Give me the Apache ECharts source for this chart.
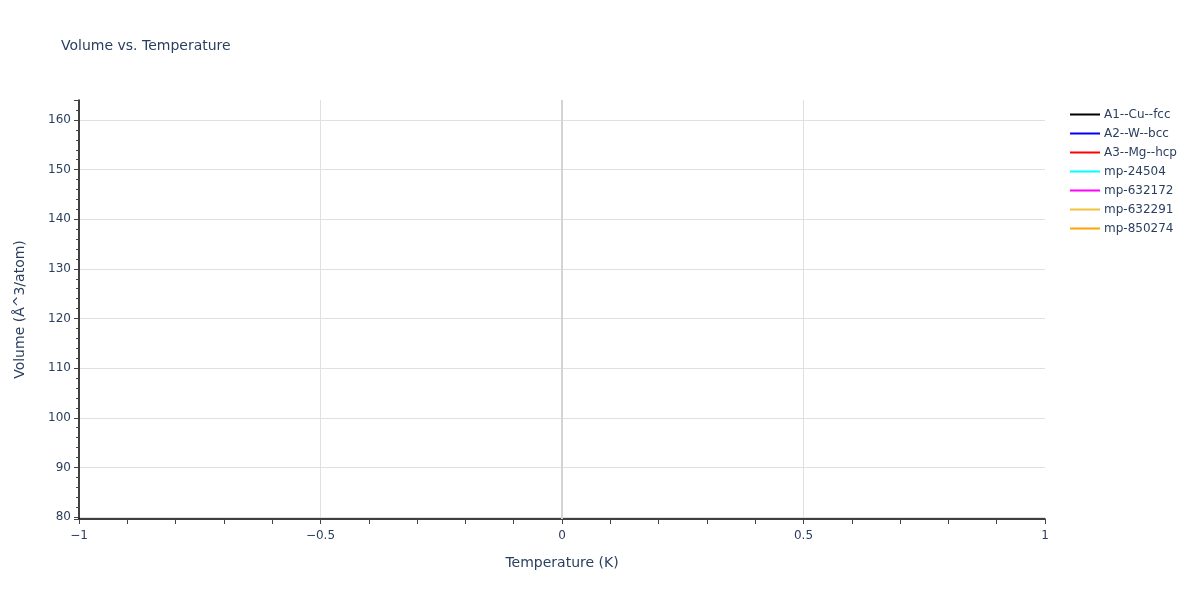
<!DOCTYPE html>
<html>
<head>
<meta charset="utf-8">
<script src="https://cdn.jsdelivr.net/npm/echarts@6/dist/echarts.min.js"></script>
<style>html,body{margin:0;padding:0;background:#fff}#chart{width:1200px;height:600px}</style>
</head>
<body>
<div id="chart"></div>
<script>
// Series names and colours (legend)
const seriesNames = ['A1--Cu--fcc', 'A2--W--bcc', 'A3--Mg--hcp', 'mp-24504', 'mp-632172', 'mp-632291', 'mp-850274'];
const seriesColors = ['#000000', '#0000ff', '#ff0000', '#00ffff', '#ff00ff', '#f0c23c', '#ffa500'];
// Temperature values (K) — each series only has the T = 0 point
const temperatures = [0];
// Volume values (Å^3/atom), one per series at T = 0 (not visible: single-point lines)
const volA1 = [83.8];
const volA2 = [95.0];
const volA3 = [110.0];
const volMp24504 = [125.0];
const volMp632172 = [140.0];
const volMp632291 = [150.0];
const volMp850274 = [159.8];
const volumes = [volA1, volA2, volA3, volMp24504, volMp632172, volMp632291, volMp850274];

const textColor = '#2a3f5f';
const fontFamily = '"DejaVu Sans", Verdana, sans-serif';
const fmt = v => {
  const s = String(Math.round(v * 100) / 100);
  return s.replace('-', '\u2212');
};

const series = seriesNames.map((name, i) => ({
  name: name,
  type: 'line',
  symbol: 'none',
  showSymbol: false,
  color: seriesColors[i],
  lineStyle: { width: 2, color: seriesColors[i] },
  data: temperatures.map((t, j) => [t, volumes[i][j]])
}));
series[0].markLine = {
  silent: true,
  symbol: 'none',
  label: { show: false },
  lineStyle: { color: '#d4d4d4', width: 2, type: 'solid' },
  data: [{ xAxis: 0 }],
  animation: false
};

const chart = echarts.init(document.getElementById('chart'));
chart.setOption({
  animation: false,
  backgroundColor: '#fff',
  textStyle: { fontFamily: fontFamily },
  title: {
    text: 'Volume vs. Temperature',
    left: 56,
    top: 34,
    textStyle: { fontSize: 14, fontWeight: 'normal', color: textColor, fontFamily: fontFamily }
  },
  legend: {
    orient: 'vertical',
    left: 1065,
    top: 102,
    icon: 'rect',
    itemWidth: 30,
    itemHeight: 2,
    itemGap: 4,
    data: seriesNames,
    textStyle: { fontSize: 12, color: textColor, fontFamily: fontFamily, padding: [0, 0, 0, -1], lineHeight: 15 }
  },
  grid: { left: 79, right: 155, top: 100, bottom: 81, containLabel: false },
  xAxis: {
    type: 'value',
    min: -1,
    max: 1,
    interval: 0.5,
    name: 'Temperature (K)',
    nameLocation: 'middle',
    nameGap: 37,
    nameTextStyle: { fontSize: 14, color: textColor },
    axisLine: { show: true, onZero: false, lineStyle: { color: '#000', width: 1.5 } },
    axisTick: { show: true, length: 5, lineStyle: { color: '#444' } },
    minorTick: { show: true, splitNumber: 5, length: 5, lineStyle: { color: '#444' } },
    axisLabel: { fontSize: 12, color: textColor, margin: 11, formatter: fmt },
    splitLine: { show: true, showMinLine: false, showMaxLine: false, lineStyle: { color: '#e0e0e0', width: 1 } }
  },
  yAxis: {
    type: 'value',
    min: 79.6,
    max: 164.03,
    splitNumber: 8,
    name: 'Volume (\u00c5^3/atom)',
    nameLocation: 'middle',
    nameGap: 52,
    nameTextStyle: { fontSize: 14, color: textColor },
    axisLine: { show: true, onZero: false, lineStyle: { color: '#000', width: 1.5 } },
    axisTick: { show: true, length: 5, lineStyle: { color: '#444' } },
    minorTick: { show: true, splitNumber: 5, length: 3, lineStyle: { color: '#444' } },
    axisLabel: { fontSize: 12, color: textColor, margin: 8, showMinLabel: false, showMaxLabel: false, formatter: fmt },
    splitLine: { show: true, showMinLine: false, showMaxLine: false, lineStyle: { color: '#e0e0e0', width: 1 } }
  },
  series: series
});
</script>
</body>
</html>
